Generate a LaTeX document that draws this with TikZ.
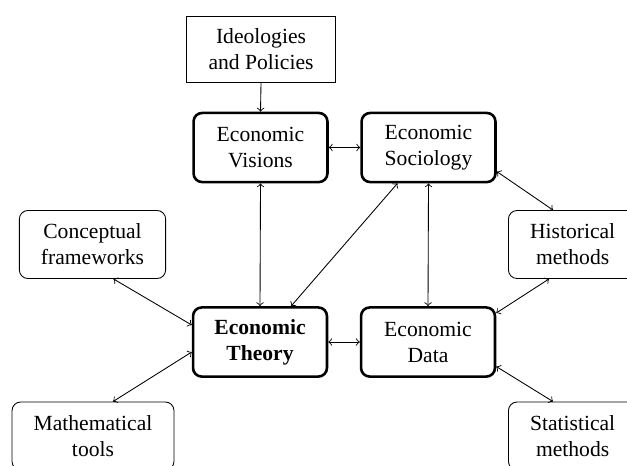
\documentclass[tikz,border=0pt]{standalone}
\usepackage{fontspec}
\setmainfont{Liberation Serif}
\usetikzlibrary{calc}
\tikzset{
	mainbox/.style={draw, rounded corners=4pt, line width=1.2pt, align=center, minimum width=62pt, minimum height=32pt},
	sidebox/.style={draw, rounded corners=4pt, align=center, inner xsep=10pt, minimum height=31.5pt},
	topbox/.style={draw, align=center, inner xsep=10pt, minimum height=30.5pt}
}

\begin{document}
\begin{tikzpicture}[x=0.463pt, y=-0.463pt]
		%%%%% START %%%%%
		
		\clip (0, 0) rectangle (627, 465);
		
		\node[topbox] (ideo) at (261, 49.5) {Ideologies\\and Policies};
		
		\node[mainbox] (vis) at (260.5, 147.5) {Economic\\Visions};
		\node[mainbox] (soc) at (428.5, 147.5) {Economic\\Sociology};
		\node[mainbox] (theo) at (260, 342) {\textbf{Economic}\\\textbf{Theory}};
		\node[mainbox] (data) at (428, 342) {Economic\\Data};
		
		\node[sidebox] (concept) at (92.5, 244.5) {Conceptual\\frameworks};
		\node[sidebox] (math) at (93, 436) {Mathematical\\tools};
		\node[sidebox, anchor=west] (hist) at (508, 244.5) {Historical\\methods};
		\node[sidebox, anchor=west] (stat) at (508, 436) {Statistical\\methods};
		
		\draw[->] (ideo.south) -- (vis.north);
		\draw[<->] (vis.east) -- (soc.west);
		\draw[<->] (vis.south) -- (theo.north);
		\draw[<->] (theo) -- (soc);
		\draw[<->] (soc.south) -- (data.north);
		\draw[<->] (theo.east) -- (data.west);
		
		\draw[<->] ($(concept.south)+(21, 0)$) -- ($(theo.west)+(0, -17)$);
		\draw[<->] ($(math.north)+(20, 0)$) -- ($(theo.west)+(0, 10)$);
		
		\draw[<->] ($(soc.east)+(0, 24)$) -- ($(hist.north west)+(45, 0)$);
		\draw[<->] ($(hist.south west)+(41, 0)$) -- ($(data.east)+(0, -29)$);
		\draw[<->] ($(data.east)+(0, 24.5)$) -- ($(stat.north west)+(45, 0)$);
		
		%%%%% END %%%%%
	\end{tikzpicture}
\end{document}
